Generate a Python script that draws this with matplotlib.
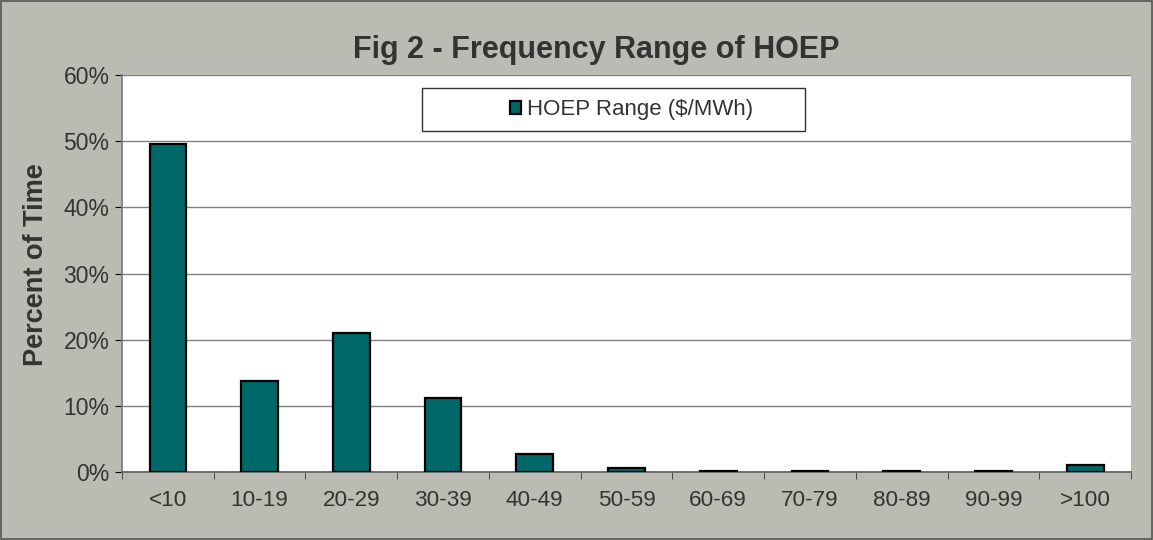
import matplotlib.pyplot as plt
from matplotlib.patches import Rectangle
from matplotlib.ticker import PercentFormatter

plt.rcParams['font.family'] = ['Liberation Sans', 'DejaVu Sans']

ranges = ['<10', '10-19', '20-29', '30-39', '40-49', '50-59',
          '60-69', '70-79', '80-89', '90-99', '>100']
pct = [49.6, 13.8, 21.0, 11.2, 2.7, 0.6, 0.2, 0.2, 0.2, 0.2, 1.0]

bg = '#bbbbb3'
txt = '#333333'

fig = plt.figure(figsize=(11.53, 5.4), dpi=100, facecolor=bg)
fig.patches.append(Rectangle((0.001, 0.001), 0.998, 0.997, transform=fig.transFigure,
                             fill=False, edgecolor='#555555', linewidth=1.2))
ax = fig.add_axes([0.1058, 0.1259, 0.8752, 0.7351])
ax.set_facecolor('white')

x = range(len(ranges))
ax.bar(x, pct, width=0.4, color='#006868', edgecolor='black', linewidth=1.6,
       label='HOEP Range ($/MWh)', zorder=3)

ax.set_xlim(-0.5, len(ranges) - 0.5)
ax.set_ylim(0, 60)
ax.set_yticks(range(0, 61, 10))
ax.yaxis.set_major_formatter(PercentFormatter(decimals=0))
ax.set_xticks(list(x))
ax.set_xticklabels(ranges)
ax.set_xticks([i + 0.5 for i in range(-1, len(ranges))], minor=True)
ax.tick_params(axis='x', which='major', length=0, pad=13, labelsize=16.2, labelcolor=txt)
ax.tick_params(axis='x', which='minor', length=5, direction='out', color='#333333')
ax.tick_params(axis='y', length=5, direction='out', labelsize=16.5, labelcolor=txt, pad=4)
ax.yaxis.grid(True, color='#808080', linewidth=1, zorder=0)

for s in ['top', 'right']:
    ax.spines[s].set_visible(False)
ax.spines['left'].set_color('#808080')
ax.spines['bottom'].set_color('#666666')
ax.spines['left'].set_linewidth(1.3)
ax.spines['bottom'].set_linewidth(1.3)

ax.set_ylabel('Percent of Time', fontsize=19.5, fontweight='bold', color=txt)
ax.yaxis.set_label_coords(-0.072, 0.523)
fig.text(0.5175, 0.908, 'Fig 2 - Frequency Range of HOEP', ha='center', va='center',
         fontsize=22, fontweight='bold', color=txt)

ax.add_patch(Rectangle((0.297, 0.859), 0.38, 0.108, transform=ax.transAxes,
                       facecolor='white', edgecolor='#333333', linewidth=1, zorder=4))
leg = ax.legend(loc='center', bbox_to_anchor=(0.505, 0.913), frameon=False,
                fontsize=16, handlelength=0.5, handleheight=0.5, handletextpad=0.3)
leg.set_zorder(5)
for t in leg.get_texts():
    t.set_color(txt)

fig.savefig('out.png', dpi=100, facecolor=bg)
